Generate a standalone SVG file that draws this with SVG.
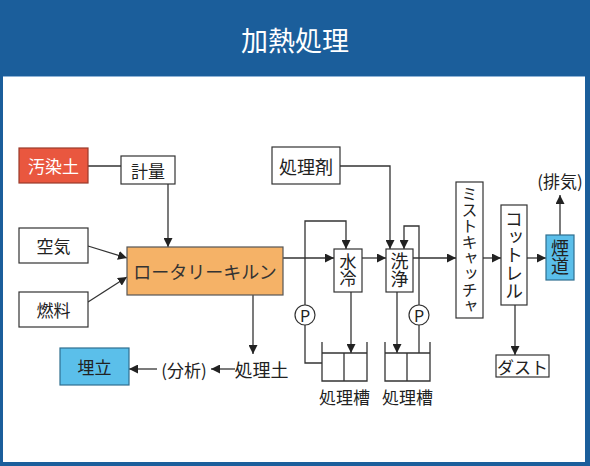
<svg xmlns="http://www.w3.org/2000/svg" width="590" height="466" viewBox="0 0 590 466">
<defs>
<style>
.t{font-family:"Noto Sans CJK JP","Noto Sans",sans-serif;font-size:17px;fill:#222;text-anchor:middle;dominant-baseline:central}
.v{writing-mode:vertical-rl;text-orientation:upright}
.box{fill:#fff;stroke:#333;stroke-width:1.2}
.ln{fill:none;stroke:#333;stroke-width:1.3}
.ar{marker-end:url(#ah)}
</style>
<marker id="ah" markerWidth="9" markerHeight="9" refX="9" refY="4.5" orient="auto" markerUnits="userSpaceOnUse">
<path d="M0,0 L9,4.5 L0,9 z" fill="#222"/>
</marker>
</defs>
<rect x="0" y="0" width="590" height="466" fill="#1b5e9b"/>
<rect x="3" y="76" width="582" height="386" fill="#fff"/>
<line x1="3" y1="76.5" x2="585" y2="76.5" stroke="#8fb3d6" stroke-width="1"/>
<text x="295" y="39" style="font-family:'Noto Sans CJK JP',sans-serif;font-size:27px;fill:#fff;text-anchor:middle;dominant-baseline:central">加熱処理</text>

<g id="connectors">
<line class="ln" x1="88" y1="166" x2="121" y2="166"/>
<line class="ln ar" x1="168" y1="184" x2="168" y2="247"/>
<line class="ln ar" x1="88" y1="246" x2="127" y2="258"/>
<line class="ln ar" x1="88" y1="302" x2="127" y2="277"/>
<line class="ln ar" x1="283" y1="258" x2="334" y2="258"/>
<line class="ln ar" x1="362" y1="258" x2="386" y2="258"/>
<polyline class="ln ar" points="340,166 390,166 390,249"/>
<polyline class="ln" points="322,363 305,363 305,325"/>
<polyline class="ln ar" points="305,305 305,221 346,221 346,249"/>
<line class="ln" x1="419" y1="353" x2="419" y2="325"/>
<polyline class="ln ar" points="419,305 419,226 404,226 404,249"/>
<line class="ln ar" x1="413" y1="258" x2="456" y2="258"/>
<line class="ln ar" x1="483" y1="258" x2="501" y2="258"/>
<line class="ln ar" x1="527" y1="258" x2="546" y2="258"/>
<line class="ln ar" x1="560" y1="235" x2="560" y2="195"/>
<line class="ln ar" x1="351" y1="292" x2="351" y2="353"/>
<line class="ln ar" x1="397" y1="292" x2="397" y2="353"/>
<line class="ln ar" x1="515" y1="305" x2="515" y2="355"/>
<line class="ln ar" x1="253" y1="295" x2="253" y2="354"/>
<line class="ln ar" x1="235" y1="369" x2="211" y2="369"/>
<line class="ln ar" x1="157" y1="369" x2="129" y2="369"/>
</g>

<g id="osendo"><rect x="19" y="148" width="69" height="35" fill="#e9573f" stroke="#9a3a2a" stroke-width="1.2"/><text class="t" x="53.5" y="165.5" style="fill:#fff">汚染土</text></g>
<g id="keiryo"><rect class="box" x="121" y="156" width="54" height="28"/><text class="t" x="148" y="170">計量</text></g>
<g id="kuki"><rect class="box" x="19" y="228" width="69" height="35"/><text class="t" x="53.5" y="245.5">空気</text></g>
<g id="nenryo"><rect class="box" x="19" y="292" width="69" height="35"/><text class="t" x="53.5" y="309.5">燃料</text></g>
<g id="kiln"><rect x="127" y="247" width="156" height="48" fill="#f5b267" stroke="#555" stroke-width="1.2"/><text class="t" x="205" y="271" style="font-size:18px;fill:#333">ロータリーキルン</text></g>
<g id="shorizai"><rect class="box" x="272" y="147" width="68" height="37"/><text class="t" x="306" y="165.5" style="font-size:18px">処理剤</text></g>
<g id="suirei"><rect class="box" x="334" y="249" width="28" height="43"/><text class="t v" x="348" y="270.5">水冷</text></g>
<g id="senjo"><rect class="box" x="386" y="249" width="27" height="43"/><text class="t v" x="399.5" y="270.5" style="font-size:18px">洗浄</text></g>
<g id="pump1"><circle cx="305" cy="315" r="10" fill="#fff" stroke="#333" stroke-width="1.2"/><text class="t" x="305" y="315" style="font-size:16px">P</text></g>
<g id="pump2"><circle cx="419" cy="315" r="10" fill="#fff" stroke="#333" stroke-width="1.2"/><text class="t" x="419" y="315" style="font-size:16px">P</text></g>
<g id="tank1"><path class="ln" d="M322,342 V381 H367 V342 M322,353 H367 M344,353 V381"/><text class="t" x="344.5" y="396">処理槽</text></g>
<g id="tank2"><path class="ln" d="M385,342 V381 H430 V342 M385,353 H430 M407,353 V381"/><text class="t" x="407.5" y="396">処理槽</text></g>
<g id="mist"><rect class="box" x="456" y="182" width="27" height="136"/><text class="t v" x="469.5" y="250" style="font-size:16px">ミストキャッチャ</text></g>
<g id="cottrell"><rect class="box" x="501" y="205" width="26" height="100"/><text class="t v" x="514" y="255" style="font-size:18px">コットレル</text></g>
<g id="endo"><rect x="546" y="235" width="28" height="45" fill="#5bbfea" stroke="#2f6f8f" stroke-width="1.2"/><text class="t v" x="560" y="257.5" style="font-size:18px">煙道</text></g>
<g id="haiki"><text class="t" x="560" y="180">(排気)</text></g>
<g id="dust"><rect class="box" x="496" y="355" width="53" height="22"/><text class="t" x="522.5" y="366">ダスト</text></g>
<g id="shorido"><text class="t" x="261.5" y="369" style="font-size:18px">処理土</text></g>
<g id="bunseki"><text class="t" x="184" y="369">(分析)</text></g>
<g id="umetate"><rect x="60" y="348" width="69" height="37" fill="#5bbfea" stroke="#2f6f8f" stroke-width="1.2"/><text class="t" x="94.5" y="366.5">埋立</text></g>
</svg>
